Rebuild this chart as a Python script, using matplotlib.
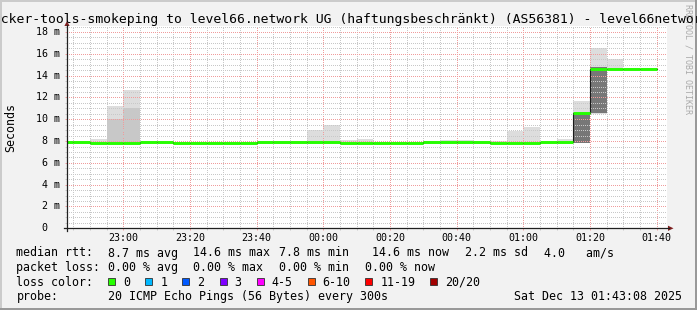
import datetime as dt

import numpy as np
import matplotlib
matplotlib.use("Agg")
import matplotlib.pyplot as plt
import matplotlib.dates as mdates
from matplotlib.patches import Rectangle, Polygon
from matplotlib.ticker import MultipleLocator
from matplotlib.transforms import blended_transform_factory

# 5 minute buckets (start time of each bucket)
bucket_start = [
    "22:40", "22:45", "22:50", "22:55", "23:00", "23:05", "23:10", "23:15", "23:20",
    "23:25", "23:30", "23:35", "23:40", "23:45", "23:50", "23:55", "00:00", "00:05",
    "00:10", "00:15", "00:20", "00:25", "00:30", "00:35", "00:40", "00:45", "00:50",
    "00:55", "01:00", "01:05", "01:10", "01:15", "01:20", "01:25", "01:30", "01:35",
]
# median rtt in ms
median_ms = [
    7.9, 7.9, 7.8, 7.8, 7.8, 7.9, 7.9, 7.8, 7.8,
    7.8, 7.8, 7.8, 7.9, 7.9, 7.9, 7.9, 7.9, 7.8,
    7.8, 7.8, 7.8, 7.8, 7.9, 7.9, 7.9, 7.9, 7.8,
    7.8, 7.8, 7.9, 7.9, 10.6, 14.6, 14.6, 14.6, 14.6,
]
# smoke: lowest ping, top of mid band, top of light band
smoke_lo = [
    7.7, 7.7, 7.7, 7.7, 7.7, 7.7, 7.7, 7.7, 7.7,
    7.7, 7.7, 7.7, 7.7, 7.7, 7.7, 7.7, 7.7, 7.7,
    7.7, 7.7, 7.7, 7.7, 7.7, 7.7, 7.7, 7.7, 7.7,
    7.7, 7.7, 7.7, 7.7, 7.8, 10.45, 14.5, 14.5, 14.5,
]
smoke_mid = [
    7.7, 7.7, 7.7, 10.0, 11.0, 7.7, 7.7, 7.7, 7.7,
    7.7, 7.7, 7.7, 7.7, 7.7, 7.7, 7.7, 7.7, 7.7,
    7.7, 7.7, 7.7, 7.7, 7.7, 7.7, 7.7, 7.7, 7.7,
    7.7, 7.7, 7.7, 7.7, 7.8, 10.45, 14.5, 14.5, 14.5,
]
smoke_hi = [
    8.05, 8.05, 8.15, 11.2, 12.67, 8.05, 7.95, 7.9, 7.9,
    7.9, 7.9, 7.9, 8.0, 8.0, 8.0, 9.0, 9.45, 8.08,
    8.17, 7.9, 7.9, 7.9, 8.0, 8.08, 8.08, 8.0, 8.0,
    8.94, 9.25, 7.95, 8.17, 11.66, 16.5, 15.5, 14.7, 14.7,
]
# dense core of the smoke (most pings)
dark_lo = [0.0] * 31 + [7.8, 10.6, 0.0, 0.0, 0.0]
dark_hi = [0.0] * 31 + [10.6, 14.75, 0.0, 0.0, 0.0]

y_ticks = [0, 2, 4, 6, 8, 10, 12, 14, 16, 18]
y_tick_labels = [" 0", " 2 m", " 4 m", " 6 m", " 8 m", "10 m", "12 m", "14 m", "16 m", "18 m"]

title_hidden = "do"
title_shown = "cker-tools-smokeping to level66.network UG (haftungsbeschränkt) (AS56381) - level66netwo"
title_tail = "rk"
median_stats = ["8.7 ms avg", "14.6 ms max", "7.8 ms min", "14.6 ms now", "2.2 ms sd", "4.0   am/s"]
loss_stats = ["0.00 % avg", "0.00 % max", "0.00 % min", "0.00 % now"]
loss_labels = ["0", "1", "2", "3", "4-5", "6-10", "11-19", "20/20"]
loss_colors = ["#26ff00", "#00b8ff", "#0059ff", "#7e00ff", "#ff00ff", "#ff5500", "#ff0000", "#a10000"]
probe_text = "20 ICMP Echo Pings (56 Bytes) every 300s"
stamp = "Sat Dec 13 01:43:08 2025"

BG = "#f2f2f2"
MONO = "DejaVu Sans Mono"
W, H = 697, 310
L, R, T, B = 67, 667, 26, 228.3
MINOR_C = "#c8c8c8"
MAJOR_C = "#f09c9c"


def to_time(hhmm):
    h, m = map(int, hhmm.split(":"))
    return dt.datetime(2025, 12, 12 if h >= 12 else 13, h, m)


starts = [to_time(s) for s in bucket_start]
step = dt.timedelta(minutes=5)
ends = [s + step for s in starts]
lo = np.array(smoke_lo)
mid = np.array(smoke_mid)
hi = np.array(smoke_hi)
dlo = np.array(dark_lo)
dhi = np.array(dark_hi)

fig = plt.figure(figsize=(W / 100, H / 100), dpi=100, facecolor=BG)
ax = fig.add_axes([L / W, 1 - B / H, (R - L) / W, (B - T) / H], facecolor="white")

ax.bar(starts, hi - lo, width=step, bottom=lo, align="edge", color="#dddddd", linewidth=0, zorder=1)
ax.bar(starts, mid - lo, width=step, bottom=lo, align="edge", color="#c8c8c8", linewidth=0, zorder=1.1)
ax.bar(starts, dhi - dlo, width=step, bottom=dlo, align="edge", color="#777777", linewidth=0, zorder=1.2)

ax.step(starts + [ends[-1]], median_ms + [median_ms[-1]], where="post", color="#1a1a1a", lw=0.8, zorder=3)
ax.hlines(median_ms, starts, ends, colors=loss_colors[0], lw=2.1, zorder=4)

ax.set_xlim(dt.datetime(2025, 12, 12, 22, 43, 8), dt.datetime(2025, 12, 13, 1, 43, 8))
ax.set_ylim(0, 18.55)

ax.xaxis.set_major_locator(mdates.MinuteLocator(byminute=[0, 20, 40]))
ax.xaxis.set_minor_locator(mdates.MinuteLocator(byminute=range(0, 60, 5)))
ax.xaxis.set_major_formatter(mdates.DateFormatter("%H:%M"))
ax.yaxis.set_major_locator(MultipleLocator(2))
ax.yaxis.set_minor_locator(MultipleLocator(0.5))

ax.set_axisbelow(False)
ax.grid(which="minor", color=MINOR_C, lw=1.0, ls=(0, (0.72, 1.44)), antialiased=False)
ax.grid(which="major", color=MAJOR_C, lw=1.0, ls=(0, (0.72, 1.44)), antialiased=False)
for s in ax.spines.values():
    s.set_visible(False)
ax.tick_params(axis="both", which="minor", direction="out", length=1.44, width=0.7, color=MINOR_C)
ax.tick_params(axis="both", which="major", direction="out", length=1.44, width=0.7, color=MAJOR_C)
ax.tick_params(axis="x", which="major", pad=1.6, labelsize=7.2)
ax.tick_params(axis="y", labelleft=False)
for lab in ax.get_xticklabels():
    lab.set_fontfamily(MONO)

# pixel overlay for frame, axes, legend
ov = fig.add_axes([0, 0, 1, 1])
ov.set_xlim(0, W)
ov.set_ylim(H, 0)
ov.axis("off")

ov.plot([0, W], [1, 1], color="#cbcbcb", lw=1.44)
ov.plot([1, 1], [0, H], color="#cbcbcb", lw=1.44)
ov.plot([0, W], [H - 1, H - 1], color="#999999", lw=1.44)
ov.plot([W - 1, W - 1], [0, H], color="#999999", lw=1.44)

ov.plot([L - 3, 669], [B, B], color="#202020", lw=0.9)
ov.plot([L, L], [B + 3, 25], color="#202020", lw=0.9)
ov.add_patch(Polygon([[668, B - 2.6], [673.5, B], [668, B + 2.6]], closed=True, color="#7f1f1f", lw=0))
ov.add_patch(Polygon([[L - 2.6, 26], [L, 21], [L + 2.6, 26]], closed=True, color="#7f1f1f", lw=0))

ytr = blended_transform_factory(ov.transData, ax.transData)
for v, lab in zip(y_ticks, y_tick_labels):
    ov.text(36.5, v, lab, transform=ytr, ha="left", va="center", fontsize=7.2, family=MONO)

ov.text(10.5, (T + B) / 2, "Seconds", rotation=90, ha="center", va="center", fontsize=8.4, family=MONO)
ov.text(688, 4.5, "RRDTOOL / TOBI OETIKER", rotation=270, ha="center", va="top", fontsize=6.0,
        family=MONO, color="#aaaaaa")

# title is wider than the image: fit the visible part between x=1 and x=696
renderer = fig.canvas.get_renderer()
probe = ov.text(0, 0, title_shown, fontsize=9.45, family=MONO)
shown_w = probe.get_window_extent(renderer).width
probe.remove()
title_fs = 9.45 * 695 / shown_w
t_full = ov.text(0, 0, title_hidden + title_shown, fontsize=title_fs, family=MONO)
t_vis = ov.text(0, 0, title_shown, fontsize=title_fs, family=MONO)
lead = t_full.get_window_extent(renderer).width - t_vis.get_window_extent(renderer).width
t_full.remove()
t_vis.remove()
ov.text(1 - lead, 23, title_hidden + title_shown + title_tail, ha="left", va="baseline",
        fontsize=title_fs, family=MONO)

fs = 8.4
rows = [256.5, 271, 285.5, 300]
ov.text(16.4, rows[0], "median rtt:", ha="left", va="baseline", fontsize=fs, family=MONO)
for x, s in zip([107.6, 193.3, 279, 372.4, 465.3, 544.4], median_stats):
    ov.text(x, rows[0], s, ha="left", va="baseline", fontsize=fs, family=MONO)
ov.text(16.4, rows[1], "packet loss:", ha="left", va="baseline", fontsize=fs, family=MONO)
for x, s in zip([107.6, 193.3, 279.1, 365.3], loss_stats):
    ov.text(x, rows[1], s, ha="left", va="baseline", fontsize=fs, family=MONO)
ov.text(16.4, rows[2], "loss color:", ha="left", va="baseline", fontsize=fs, family=MONO)
for x, s, c in zip([108, 145.3, 182.2, 219.6, 256.9, 307.6, 365.3, 429.8], loss_labels, loss_colors):
    ov.add_patch(Rectangle((x, 278), 7, 7, facecolor=c, edgecolor="#303030", lw=0.6))
    ov.text(x + 15, rows[2], s, ha="left", va="baseline", fontsize=fs, family=MONO)
ov.text(16.4, rows[3], "probe:", ha="left", va="baseline", fontsize=fs, family=MONO)
ov.text(107.6, rows[3], probe_text, ha="left", va="baseline", fontsize=fs, family=MONO)
ov.text(681.5, rows[3], stamp, ha="right", va="baseline", fontsize=fs, family=MONO)

fig.savefig("out.png", dpi=100, facecolor=BG)
